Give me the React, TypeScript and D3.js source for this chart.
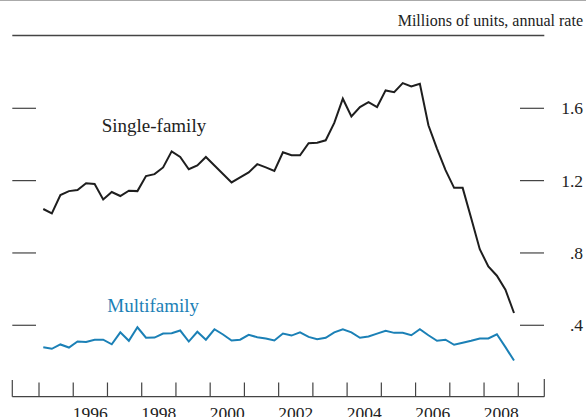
import React from "react";
import * as d3 from "d3";

const singleFamily = [
  1.043, 1.019, 1.12, 1.142, 1.148, 1.185, 1.181, 1.096, 1.137, 1.115, 1.144, 1.142,
  1.225, 1.236, 1.273, 1.362, 1.331, 1.263, 1.284, 1.331, 1.284, 1.237, 1.19, 1.218,
  1.245, 1.291, 1.273, 1.254, 1.357, 1.34, 1.34, 1.407, 1.41, 1.423, 1.519, 1.653,
  1.555, 1.607, 1.634, 1.607, 1.699, 1.689, 1.739, 1.721, 1.736, 1.506, 1.377, 1.258,
  1.16, 1.16, 0.992, 0.821, 0.725, 0.674, 0.597, 0.468,
];

const multiFamily = [
  0.279, 0.27, 0.294, 0.277, 0.31, 0.308, 0.32, 0.32, 0.295, 0.361, 0.314, 0.389,
  0.331, 0.332, 0.354, 0.356, 0.371, 0.31, 0.364, 0.32, 0.378, 0.349, 0.316, 0.32,
  0.347, 0.334, 0.327, 0.316, 0.354, 0.343, 0.361, 0.336, 0.323, 0.331, 0.361, 0.378,
  0.361, 0.331, 0.338, 0.354, 0.369, 0.358, 0.358, 0.345, 0.378, 0.345, 0.314, 0.32,
  0.292, 0.303, 0.314, 0.327, 0.327, 0.35, 0.279, 0.205,
];

const startYear = 1995;
const yearTicks = d3.range(1995, 2010);
const yearLabels = [1996, 1998, 2000, 2002, 2004, 2006, 2008];
const valueTicks = [0.4, 0.8, 1.2, 1.6];
const valueTickLabels = [".4", ".8", "1.2", "1.6"];
const unitsLabel = "Millions of units, annual rate";

const W = 586;
const H = 417;
const FONT = "'Liberation Serif', 'Times New Roman', serif";
const BLUE = "#1b80b6";

export default function App() {
  const x = d3.scaleLinear().domain([1994.22, 2009.76]).range([12.3, 544.3]);
  const y = d3.scaleLinear().domain([0, 1.6]).range([397.6, 108.3]);
  const xDate = (i: number) => startYear + (i + 0.5) / 4;

  const line = d3
    .line<number>()
    .x((_, i) => x(xDate(i)))
    .y((d) => y(d));

  const [x0, x1] = x.range();
  const axisY = 396.7;

  return (
    <svg
      width={W}
      height={H}
      style={{ position: "fixed", left: 0, top: 0, background: "#fff" }}
    >
      <rect x={0} y={0} width={W} height={H} fill="#fff" />
      <line x1={0} x2={W} y1={0.5} y2={0.5} stroke="#aaa" strokeWidth={1} />
      <text
        x={583}
        y={26}
        textAnchor="end"
        fontFamily={FONT}
        fontSize={16}
        fill="#222"
      >
        {unitsLabel}
      </text>
      <line x1={x0} x2={x1} y1={35.5} y2={35.5} stroke="#444" strokeWidth={1.3} />

      {valueTicks.map((v, i) => (
        <g key={v}>
          <line x1={12.3} x2={36} y1={y(v)} y2={y(v)} stroke="#444" strokeWidth={1.2} />
          <line x1={520} x2={544} y1={y(v)} y2={y(v)} stroke="#444" strokeWidth={1.2} />
          <text
            x={583}
            y={y(v) + 6}
            textAnchor="end"
            fontFamily={FONT}
            fontSize={17.5}
            fill="#222"
          >
            {valueTickLabels[i]}
          </text>
        </g>
      ))}

      <line x1={x0} x2={x1} y1={axisY} y2={axisY} stroke="#444" strokeWidth={1.3} />
      <line x1={x0} x2={x0} y1={380} y2={axisY} stroke="#444" strokeWidth={1.2} />
      <line x1={x1} x2={x1} y1={379} y2={axisY} stroke="#444" strokeWidth={1.2} />
      {yearTicks.map((t) => (
        <line
          key={t}
          x1={x(t)}
          x2={x(t)}
          y1={382.5}
          y2={axisY}
          stroke="#444"
          strokeWidth={1.2}
        />
      ))}
      {yearLabels.map((t) => (
        <text
          key={t}
          x={x(t + 0.5)}
          y={419}
          textAnchor="middle"
          fontFamily={FONT}
          fontSize={17.5}
          fill="#222"
        >
          {t}
        </text>
      ))}

      <path
        d={line(multiFamily) || ""}
        fill="none"
        stroke={BLUE}
        strokeWidth={2}
        strokeLinejoin="miter"
      />
      <path
        d={line(singleFamily) || ""}
        fill="none"
        stroke="#1e1e1e"
        strokeWidth={2}
        strokeLinejoin="miter"
      />

      <text x={101.7} y={132} fontFamily={FONT} fontSize={19} fill="#222">
        Single-family
      </text>
      <text x={107.3} y={311.5} fontFamily={FONT} fontSize={19} fill={BLUE}>
        Multifamily
      </text>
    </svg>
  );
}
